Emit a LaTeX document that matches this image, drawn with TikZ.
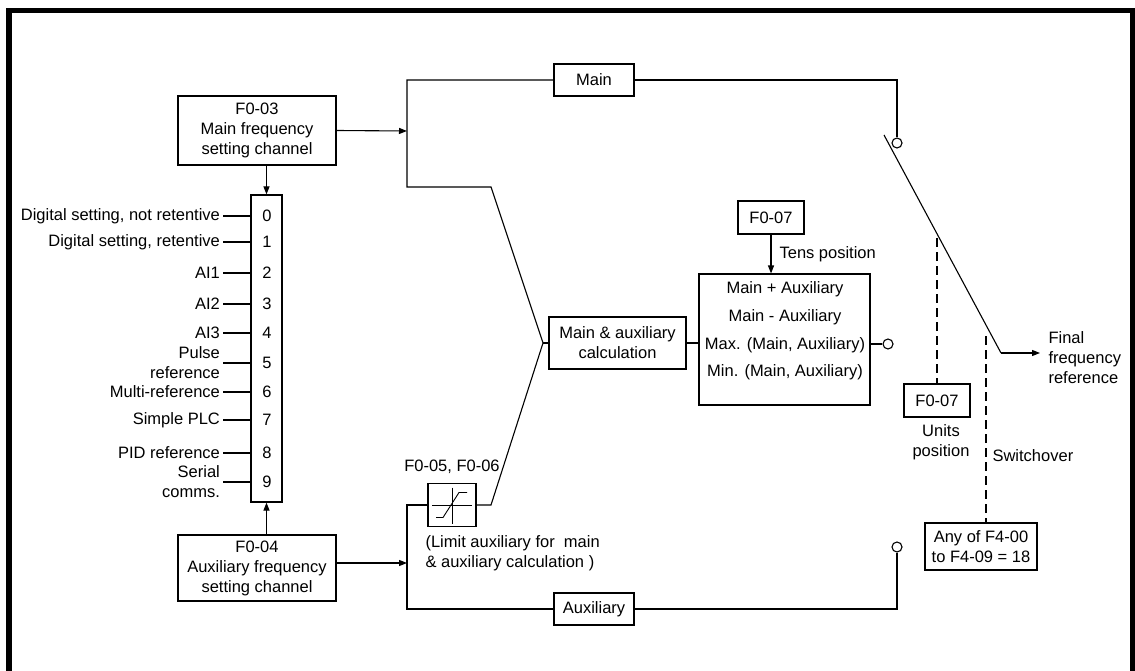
\documentclass[tikz,border=0pt]{standalone}
\usepackage{fontspec}
\setmainfont{Liberation Sans}
\usetikzlibrary{arrows.meta, positioning}

\begin{document}
\begin{tikzpicture}[x=1pt, y=-1pt, line width=1.1pt,
    every node/.style={font=\fontsize{16.5}{20}\selectfont, inner sep=3pt},
    box/.style={draw, fill=white, inner sep=0pt, align=center},
    port/.style={draw, circle, fill=white, inner sep=0pt, minimum size=10pt},
    arr/.style={-{Triangle[length=8pt,width=6pt]}},
    link/.style={dash pattern=on 9pt off 5pt}]

    \useasboundingbox (0,0) rectangle (1135,671);

    % Frame
    \draw[line width=5.5pt, line join=miter] (9,680) -- (9,10.5) -- (1132.5,10.5) -- (1132.5,680);

    % Channels
    \node[box, minimum width=158pt, minimum height=69pt] (mainch) at (257,130.5) {F0-03\\Main frequency\\setting channel};
    \node[box, minimum width=158pt, minimum height=66pt] (auxch) at (257,568) {F0-04\\Auxiliary frequency\\setting channel};

    % Selector
    \node[box, minimum width=31pt, minimum height=307pt] (sel) at (266.5,348.5) {};
    \foreach \i/\y in {0/216, 1/242, 2/273, 3/304, 4/333, 5/363, 6/392, 7/420, 8/453, 9/482}
        \node (d\i) at (267,\y) {\i};
    \foreach \i/\lbl in {0/{Digital setting, not retentive}, 1/{Digital setting, retentive},
                         2/AI1, 3/AI2, 4/AI3, 5/{Pulse\\reference}, 6/Multi-reference,
                         7/Simple PLC, 8/PID reference, 9/{Serial\\comms.}} {
        \node[anchor=east, align=right] (src\i) at ([xshift=-27pt]sel.west |- d\i) {\lbl};
        \draw (src\i.east) -- (sel.west |- d\i);
    }
    \draw[arr] (sel.north |- mainch.south) -- (sel.north);
    \draw[arr] (sel.south |- auxch.north) -- (sel.south);

    % Branch points
    \coordinate (mj) at (407,131);
    \coordinate (aj) at (407,563);
    \coordinate (mtop) at (407,80);
    \coordinate (mbot) at (407,187);
    \coordinate (mbend) at (491,187);
    \coordinate (mx) at (543,343);
    \coordinate (lbend) at (491,505);
    \coordinate (atop) at (407,505);
    \coordinate (abot) at (407,609);
    \coordinate (mright) at (897,80);
    \coordinate (aright) at (897,609);

    \draw[arr] (mainch.east) -- (mj);
    \draw[arr] (auxch.east |- aj) -- (aj);

    % Main and auxiliary paths
    \node[box, minimum width=80pt, minimum height=32pt] (mainlbl) at (594,80) {Main};
    \node[box, minimum width=80pt, minimum height=32pt] (auxlbl) at (594,609) {Auxiliary};
    \node[box, minimum width=48pt, minimum height=43pt] (lim) at (452,505) {};
    \draw[line width=0.9pt] ([shift={(-20,0)}]lim.center) -- ([shift={(20,0)}]lim.center);
    \draw[line width=0.9pt] ([shift={(0,-17.5)}]lim.center) -- ([shift={(0,18.5)}]lim.center);
    \draw[line width=0.9pt] ([shift={(-16,12.5)}]lim.center) -- ([shift={(-9,12.5)}]lim.center)
        -- ([shift={(7,-12.5)}]lim.center) -- ([shift={(15,-12.5)}]lim.center);
    \node (limset) at (452,467) {F0-05, F0-06};
    \node[anchor=west, align=left] (limnote) at (422,553) {(Limit auxiliary for \ main\\\& auxiliary calculation )};

    \draw (mainlbl.west) -- (mtop) -- (mbot) -- (mbend) -- (mx) -- (lbend) -- (lim.east);
    \draw (lim.west) -- (atop) -- (abot) -- (auxlbl.west);

    % Calculation
    \node[box, minimum width=137pt, minimum height=52pt] (mac) at (617.5,343) {Main \& auxiliary\\calculation};
    \node[box, minimum width=171pt, minimum height=131pt] (calc) at (784.5,339.5) {};
    \node[align=center, font=\fontsize{16.5}{27.7}\selectfont] (ops) at (785,331)
        {Main + Auxiliary\\Main - Auxiliary\\Max. (Main, Auxiliary)\\Min. (Main, Auxiliary)};
    \node[box, minimum width=66pt, minimum height=33pt] (f07a) at (771,217.5) {F0-07};
    \node[anchor=west] (tens) at (776,254) {Tens position};
    \draw (mx) -- (mac.west);
    \draw (mac.east) -- (calc.west |- mac);
    \draw[arr] (f07a.south) -- (calc.north -| f07a);

    % Switch
    \node[port] (mport) at (897,143) {};
    \node[port] (aport) at (897,547) {};
    \node[port] (oport) at (888,344) {};
    \draw (mainlbl.east) -- (mright) -- (mport.north);
    \draw (auxlbl.east) -- (aright) -- (aport.south);
    \draw (calc.east |- oport) -- (oport.west);

    \coordinate (b1) at (884,135);
    \coordinate (b2) at (1001,353);
    \coordinate (fout) at (1040,353);
    \draw (b1) -- (b2);
    \draw[arr] (b2) -- (fout);
    \node[anchor=west, align=left] (final) at (1045,358) {Final\\frequency\\reference};

    % Selection of the output
    \node[box, minimum width=66pt, minimum height=33pt] (f07b) at (937,400.5) {F0-07};
    \node[align=center] (units) at (941,442) {Units\\position};
    \node[box, minimum width=112pt, minimum height=47pt] (anyof) at (981,546.5) {Any of F4-00\\to F4-09 = 18};
    \node[anchor=west] (swlbl) at (989,456) {Switchover};
    \coordinate (ua) at (937,238);
    \coordinate (sw) at (986,336);
    \draw[link] (ua) -- (f07b.north);
    \draw[link] (sw) -- (sw |- anyof.north);
\end{tikzpicture}
\end{document}
